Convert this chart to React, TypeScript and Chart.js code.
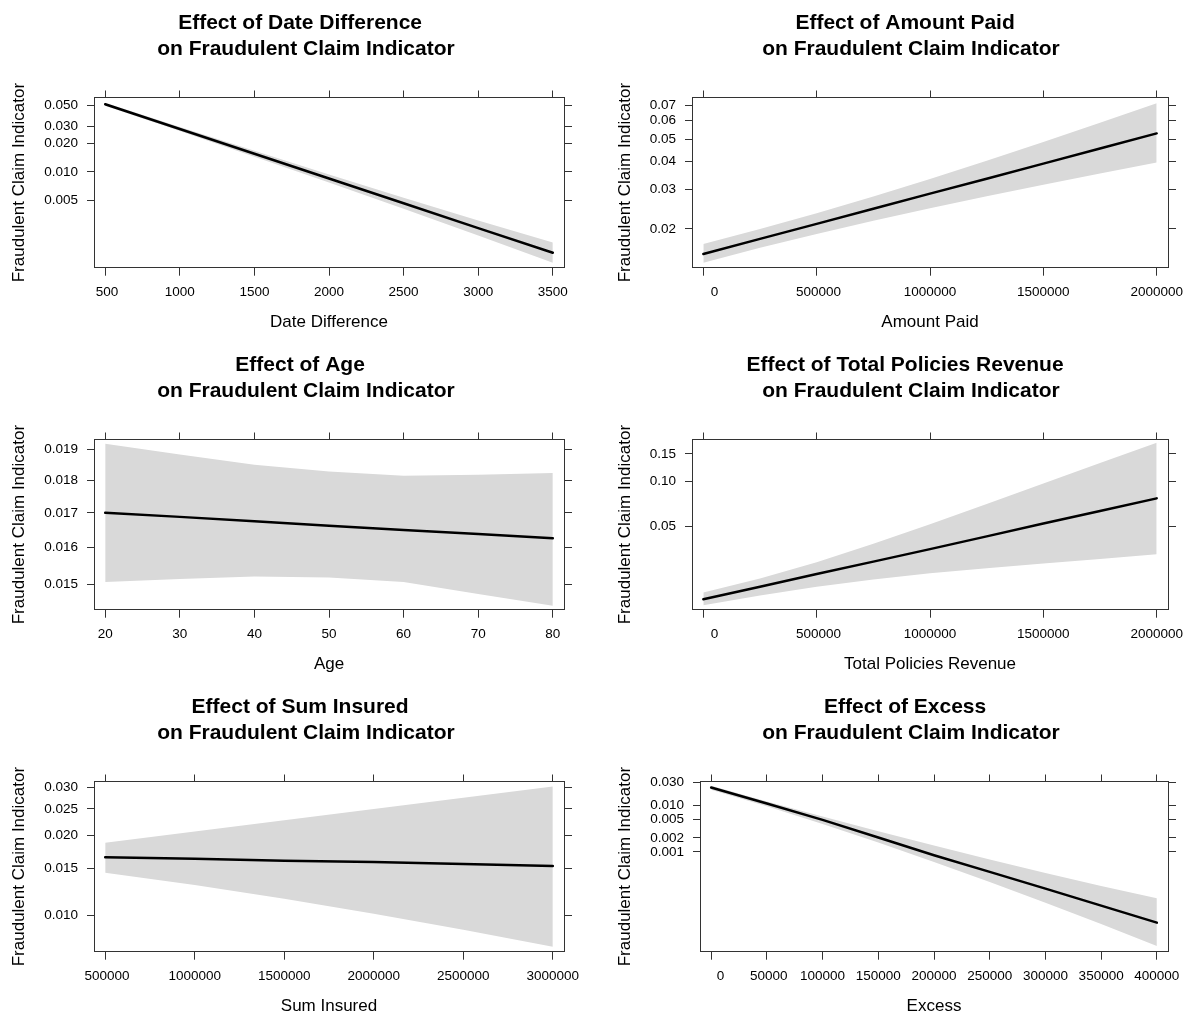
import React, { useEffect, useRef } from 'react';
import { Chart, registerables } from 'chart.js';

Chart.register(...registerables);

const FONT = '"Liberation Sans", Arial, Helvetica, sans-serif';
const BAND = '#d9d9d9';
const AXIS = '#333333';
const Y_TITLE = 'Fraudulent Claim Indicator';

// ---- Panel 1: Date Difference ----
const dateDiff = [500, 1000, 1500, 2000, 2500, 3000, 3500];
const dateDiffFit = [0.0512, 0.0284, 0.01557, 0.00848, 0.00461, 0.0025, 0.00136];
const dateDiffLower = [0.0495, 0.0271, 0.01447, 0.00769, 0.00402, 0.00208, 0.00106];
const dateDiffUpper = [0.053, 0.0298, 0.01675, 0.00935, 0.00528, 0.00301, 0.00175];
const dateDiffYTicks = [0.05, 0.03, 0.02, 0.01, 0.005];
const dateDiffYLabels = ['0.050', '0.030', '0.020', '0.010', '0.005'];
const dateDiffYRange = [0.000938, 0.0599];
const dateDiffXTicks = [500, 1000, 1500, 2000, 2500, 3000, 3500];

// ---- Panel 2: Amount Paid ----
const amountPaid = [0, 250000, 500000, 750000, 1000000, 1250000, 1500000, 1750000, 2000000];
const amountPaidFit = [0.01544, 0.01805, 0.02109, 0.02464, 0.02876, 0.03351, 0.03906, 0.04548, 0.05291];
const amountPaidLower = [0.01411, 0.01645, 0.01901, 0.02177, 0.02477, 0.02798, 0.03147, 0.0353, 0.03954];
const amountPaidUpper = [0.01712, 0.01999, 0.02352, 0.02792, 0.03338, 0.04018, 0.04854, 0.05879, 0.07122];
const amountPaidYTicks = [0.07, 0.06, 0.05, 0.04, 0.03, 0.02];
const amountPaidYLabels = ['0.07', '0.06', '0.05', '0.04', '0.03', '0.02'];
const amountPaidYRange = [0.01339, 0.0754];
const amountPaidXTicks = [0, 500000, 1000000, 1500000, 2000000];

// ---- Panel 3: Age ----
const age = [20, 30, 40, 50, 60, 70, 80];
const ageFit = [0.017, 0.01688, 0.01675, 0.01662, 0.0165, 0.01638, 0.01626];
const ageLower = [0.01506, 0.01514, 0.01521, 0.01518, 0.01506, 0.01475, 0.01445];
const ageUpper = [0.01918, 0.01882, 0.01849, 0.01827, 0.01814, 0.01817, 0.01822];
const ageYTicks = [0.019, 0.018, 0.017, 0.016, 0.015];
const ageYLabels = ['0.019', '0.018', '0.017', '0.016', '0.015'];
const ageYRange = [0.01435, 0.01932];
const ageXTicks = [20, 30, 40, 50, 60, 70, 80];

// ---- Panel 4: Total Policies Revenue ----
const revenue = [0, 250000, 500000, 750000, 1000000, 1250000, 1500000, 1750000, 2000000];
const revenueFit = [0.01531, 0.01884, 0.02316, 0.02836, 0.0347, 0.0426, 0.05222, 0.06369, 0.0775];
const revenueLower = [0.01386, 0.01628, 0.01879, 0.02121, 0.02342, 0.02543, 0.02745, 0.02962, 0.032];
const revenueUpper = [0.01711, 0.02157, 0.02806, 0.03783, 0.05167, 0.07092, 0.09711, 0.1316, 0.1752];
const revenueYTicks = [0.15, 0.1, 0.05];
const revenueYLabels = ['0.15', '0.10', '0.05'];
const revenueYRange = [0.0129, 0.1834];
const revenueXTicks = [0, 500000, 1000000, 1500000, 2000000];

// ---- Panel 5: Sum Insured ----
const sumInsured = [500000, 1000000, 1500000, 2000000, 2500000, 3000000];
const sumInsuredFit = [0.01652, 0.01633, 0.01606, 0.01587, 0.0156, 0.01534];
const sumInsuredLower = [0.01448, 0.01303, 0.01158, 0.01017, 0.00886, 0.00765];
const sumInsuredUpper = [0.01873, 0.02061, 0.02268, 0.02496, 0.02743, 0.03017];
const sumInsuredYTicks = [0.03, 0.025, 0.02, 0.015, 0.01];
const sumInsuredYLabels = ['0.030', '0.025', '0.020', '0.015', '0.010'];
const sumInsuredYRange = [0.00733, 0.0315];
const sumInsuredXTicks = [500000, 1000000, 1500000, 2000000, 2500000, 3000000];

// ---- Panel 6: Excess ----
const excess = [0, 50000, 100000, 150000, 200000, 250000, 300000, 350000, 400000];
const excessFit = [0.02361, 0.01083, 0.004854, 0.002031, 0.000848, 0.000372, 0.0001629, 0.0000703, 0.0000303];
const excessLower = [0.0211, 0.0095, 0.003984, 0.001586, 0.00061, 0.0002266, 0.0000814, 0.0000284, 0.00000953];
const excessUpper = [0.0256, 0.01195, 0.005724, 0.002776, 0.001368, 0.000685, 0.000354, 0.0001858, 0.000101];
const excessYTicks = [0.03, 0.01, 0.005, 0.002, 0.001];
const excessYLabels = ['0.030', '0.010', '0.005', '0.002', '0.001'];
const excessYRange = [0.00000719, 0.0315];
const excessXTicks = [0, 50000, 100000, 150000, 200000, 250000, 300000, 350000, 400000];

type PanelSpec = {
  name: string;
  xTitle: string;
  x: number[];
  fit: number[];
  lower: number[];
  upper: number[];
  yTicks: number[];
  yLabels: string[];
  yRange: number[];
  xTicks: number[];
  left: number;
  top: number;
  width: number;
  yWidth: number;
};

const COL_LEFT = 0;
const COL_RIGHT = 606;
const LEFT_W = 606;
const RIGHT_W = 604;
const ROW_H = 342;

const panels: PanelSpec[] = [
  { name: 'Date Difference', xTitle: 'Date Difference', x: dateDiff, fit: dateDiffFit, lower: dateDiffLower, upper: dateDiffUpper, yTicks: dateDiffYTicks, yLabels: dateDiffYLabels, yRange: dateDiffYRange, xTicks: dateDiffXTicks, left: COL_LEFT, top: 0, width: LEFT_W, yWidth: 94 },
  { name: 'Amount Paid', xTitle: 'Amount Paid', x: amountPaid, fit: amountPaidFit, lower: amountPaidLower, upper: amountPaidUpper, yTicks: amountPaidYTicks, yLabels: amountPaidYLabels, yRange: amountPaidYRange, xTicks: amountPaidXTicks, left: COL_RIGHT, top: 0, width: RIGHT_W, yWidth: 86 },
  { name: 'Age', xTitle: 'Age', x: age, fit: ageFit, lower: ageLower, upper: ageUpper, yTicks: ageYTicks, yLabels: ageYLabels, yRange: ageYRange, xTicks: ageXTicks, left: COL_LEFT, top: ROW_H, width: LEFT_W, yWidth: 94 },
  { name: 'Total Policies Revenue', xTitle: 'Total Policies Revenue', x: revenue, fit: revenueFit, lower: revenueLower, upper: revenueUpper, yTicks: revenueYTicks, yLabels: revenueYLabels, yRange: revenueYRange, xTicks: revenueXTicks, left: COL_RIGHT, top: ROW_H, width: RIGHT_W, yWidth: 86 },
  { name: 'Sum Insured', xTitle: 'Sum Insured', x: sumInsured, fit: sumInsuredFit, lower: sumInsuredLower, upper: sumInsuredUpper, yTicks: sumInsuredYTicks, yLabels: sumInsuredYLabels, yRange: sumInsuredYRange, xTicks: sumInsuredXTicks, left: COL_LEFT, top: ROW_H * 2, width: LEFT_W, yWidth: 94 },
  { name: 'Excess', xTitle: 'Excess', x: excess, fit: excessFit, lower: excessLower, upper: excessUpper, yTicks: excessYTicks, yLabels: excessYLabels, yRange: excessYRange, xTicks: excessXTicks, left: COL_RIGHT, top: ROW_H * 2, width: RIGHT_W, yWidth: 94 },
];

const logit = (p: number) => Math.log(p / (1 - p));

function makeConfig(p: PanelSpec): any {
  const x0 = p.x[0];
  const x1 = p.x[p.x.length - 1];
  const xr = x1 - x0;
  const xmin = x0 - 0.025 * xr;
  const xmax = x1 + 0.025 * xr;
  const ymin = logit(p.yRange[0]);
  const ymax = logit(p.yRange[1]);
  const pts = (arr: number[]) => p.x.map((x, i) => ({ x, y: logit(arr[i]) }));
  const yTickVals = p.yTicks.map(logit);
  const maxLen = Math.max(...p.xTicks.map((v) => String(v).length));
  const xLabels = p.xTicks.map((v) => String(v).padStart(maxLen, ' '));
  const setXTicks = (s: any) => {
    s.ticks = p.xTicks.map((v) => ({ value: v }));
  };
  const setYTicks = (s: any) => {
    s.ticks = yTickVals.map((v) => ({ value: v }));
  };
  const tickFont = { family: FONT, size: 13.5 };
  const titleFont = { family: FONT, size: 17 };

  return {
    type: 'line',
    data: {
      datasets: [
        { label: 'fit', data: pts(p.fit), borderColor: '#000', borderWidth: 2.5, pointRadius: 0, fill: false, tension: 0, borderJoinStyle: 'round', borderCapStyle: 'round' },
        { label: 'upper', data: pts(p.upper), borderColor: 'rgba(0,0,0,0)', borderWidth: 0, pointRadius: 0, fill: false, backgroundColor: BAND },
        { label: 'lower', data: pts(p.lower), borderColor: 'rgba(0,0,0,0)', borderWidth: 0, pointRadius: 0, fill: '-1', backgroundColor: BAND },
      ],
    },
    options: {
      animation: false,
      responsive: false,
      maintainAspectRatio: false,
      devicePixelRatio: 1,
      events: [],
      layout: { padding: { left: 0, right: 0, top: 0, bottom: 9.3 } },
      plugins: {
        legend: { display: false },
        tooltip: { enabled: false },
        title: {
          display: true,
          text: ['Effect of ' + p.name + ' ', ' on Fraudulent Claim Indicator'],
          color: '#000',
          font: { family: FONT, size: 21, weight: 'bold', lineHeight: 26 / 21 },
          padding: { top: 10, bottom: 28.5 },
        },
      },
      scales: {
        x: {
          type: 'linear',
          position: 'bottom',
          min: xmin,
          max: xmax,
          afterBuildTicks: setXTicks,
          afterFit: (s: any) => { s.height = 65; },
          ticks: { callback: (_v: any, i: number) => xLabels[i], font: tickFont, color: '#000', padding: 8, maxRotation: 0, minRotation: 0, autoSkip: false },
          grid: { drawOnChartArea: false, drawTicks: true, tickLength: 8, color: AXIS, tickWidth: 1 },
          border: { display: true, color: AXIS, width: 1 },
          title: { display: true, text: p.xTitle, color: '#000', font: titleFont, padding: { top: 0, bottom: 0 } },
        },
        x2: {
          type: 'linear',
          position: 'top',
          min: xmin,
          max: xmax,
          afterBuildTicks: setXTicks,
          afterFit: (s: any) => { s.height = 7; },
          ticks: { display: false, autoSkip: false },
          grid: { drawOnChartArea: false, drawTicks: true, tickLength: 7, color: AXIS, tickWidth: 1 },
          border: { display: true, color: AXIS, width: 1 },
        },
        y: {
          type: 'linear',
          position: 'left',
          min: ymin,
          max: ymax,
          afterBuildTicks: setYTicks,
          afterFit: (s: any) => { s.width = p.yWidth; },
          ticks: { callback: (_v: any, i: number) => p.yLabels[i], font: tickFont, color: '#000', padding: 9, autoSkip: false },
          grid: { drawOnChartArea: false, drawTicks: true, tickLength: 7, color: AXIS, tickWidth: 1 },
          border: { display: true, color: AXIS, width: 1 },
          title: { display: true, text: Y_TITLE, color: '#000', font: titleFont, padding: { top: 9.5, bottom: 0 } },
        },
        y2: {
          type: 'linear',
          position: 'right',
          min: ymin,
          max: ymax,
          afterBuildTicks: setYTicks,
          afterFit: (s: any) => { s.width = 42; },
          ticks: { display: false, autoSkip: false },
          grid: { drawOnChartArea: false, drawTicks: true, tickLength: 8, color: AXIS, tickWidth: 1 },
          border: { display: true, color: AXIS, width: 1 },
        },
      },
    },
  };
}

function Panel({ spec }: { spec: PanelSpec }) {
  const ref = useRef<HTMLCanvasElement | null>(null);
  useEffect(() => {
    if (!ref.current) return;
    const chart = new Chart(ref.current, makeConfig(spec));
    return () => chart.destroy();
  }, [spec]);
  return (
    <canvas
      ref={ref}
      width={spec.width}
      height={ROW_H}
      style={{ position: 'absolute', left: spec.left, top: spec.top, width: spec.width, height: ROW_H }}
    />
  );
}

export default function App() {
  return (
    <div
      style={{
        position: 'fixed',
        left: 0,
        top: 0,
        width: 1187,
        height: 1017,
        overflow: 'hidden',
        background: '#fff',
      }}
    >
      {panels.map((p) => (
        <Panel key={p.name} spec={p} />
      ))}
    </div>
  );
}
